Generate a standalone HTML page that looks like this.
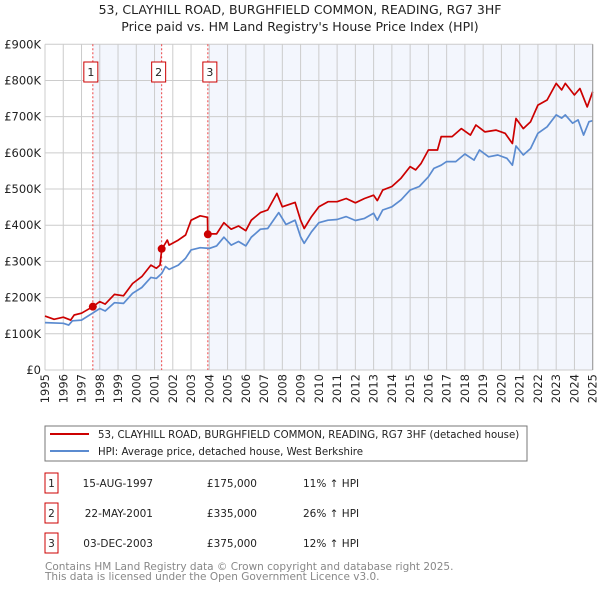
<!DOCTYPE html>
<html><head><meta charset="utf-8"><style>
body{margin:0;background:#fff;font-family:"Liberation Sans","DejaVu Sans",sans-serif;}
svg text{font-family:"DejaVu Sans","Liberation Sans",sans-serif;}
</style></head><body>
<svg id="c" width="600" height="590" xmlns="http://www.w3.org/2000/svg">
<text x="300" y="14" text-anchor="middle" font-size="12.5" fill="#222">53, CLAYHILL ROAD, BURGHFIELD COMMON, READING, RG7 3HF</text>
<text x="300" y="31" text-anchor="middle" font-size="12.5" fill="#222">Price paid vs. HM Land Registry's House Price Index (HPI)</text>
<g id="plot"></g>
<rect x="45" y="426" width="482" height="35" fill="none" stroke="#777"/>
<line x1="50" y1="434" x2="89" y2="434" stroke="#cc0000" stroke-width="2"/>
<text x="98" y="438" font-size="10.2" fill="#222">53, CLAYHILL ROAD, BURGHFIELD COMMON, READING, RG7 3HF (detached house)</text>
<line x1="50" y1="451" x2="89" y2="451" stroke="#5b8bd0" stroke-width="2"/>
<text x="98" y="455" font-size="10.2" fill="#222">HPI: Average price, detached house, West Berkshire</text>
<g id="tbl"></g>
<text x="45" y="570" font-size="10.5" fill="#888">Contains HM Land Registry data © Crown copyright and database right 2025.</text>
<text x="45" y="580" font-size="10.5" fill="#888">This data is licensed under the Open Government Licence v3.0.</text>
</svg>
<script>
const hpiYears=[1995,1996,1996.3,1996.5,1997,1997.6,1998,1998.3,1998.8,1999.3,1999.8,2000.3,2000.8,2001.1,2001.4,2001.6,2001.8,2002.3,2002.7,2003,2003.5,2004,2004.4,2004.8,2005.2,2005.6,2006,2006.3,2006.8,2007.2,2007.8,2008.2,2008.7,2009,2009.2,2009.6,2010,2010.5,2011,2011.5,2012,2012.5,2013,2013.2,2013.5,2014,2014.5,2015,2015.5,2016,2016.3,2016.7,2017,2017.5,2018,2018.5,2018.8,2019.3,2019.8,2020.3,2020.6,2020.8,2021.2,2021.6,2022,2022.5,2023,2023.3,2023.5,2023.9,2024.2,2024.5,2024.8,2025];
const hpiValues=[131,129,124,136,138,157,170,163,186,184,212,228,256,253,267,286,278,290,309,332,338,336,343,367,345,355,343,367,389,391,435,402,414,368,350,382,407,414,416,424,413,419,433,414,442,451,470,497,507,534,557,566,576,576,597,580,608,589,594,585,566,619,594,612,654,672,705,696,705,682,691,649,686,689];
const priceYears=[1995,1995.5,1996,1996.4,1996.6,1997,1997.62,1998,1998.3,1998.8,1999.3,1999.8,2000.3,2000.8,2001.1,2001.3,2001.39,2001.7,2001.8,2002.3,2002.7,2003,2003.5,2003.9,2003.92,2004.4,2004.8,2005.2,2005.6,2006,2006.3,2006.8,2007.2,2007.7,2008,2008.7,2009,2009.2,2009.6,2010,2010.5,2011,2011.5,2012,2012.5,2013,2013.2,2013.5,2014,2014.5,2015,2015.3,2015.6,2016,2016.5,2016.7,2017.3,2017.8,2018.3,2018.6,2019.1,2019.7,2020.2,2020.6,2020.8,2021.2,2021.6,2022,2022.5,2023,2023.3,2023.5,2024,2024.3,2024.7,2025];
const priceValues=[149,140,146,138,152,157,175,189,182,209,205,239,258,290,281,290,333,359,345,359,373,414,426,422,376,376,407,389,398,385,414,435,442,488,451,463,414,391,424,451,465,465,474,462,474,483,468,497,507,530,562,553,571,608,608,645,645,667,649,677,658,663,654,626,695,667,686,732,746,792,774,792,760,778,727,769];
const saleYears=[1997.62,2001.39,2003.92];
const saleValues=[175,335,375];
const saleLabels=["1","2","3"];
const saleDates=["15-AUG-1997","22-MAY-2001","03-DEC-2003"];
const salePrices=["£175,000","£335,000","£375,000"];
const saleDiffs=["11% ↑ HPI","26% ↑ HPI","12% ↑ HPI"];
const yTicks=[0,100,200,300,400,500,600,700,800,900];
const yTickLabels=["£0","£100K","£200K","£300K","£400K","£500K","£600K","£700K","£800K","£900K"];
const xTicks=[1995,1996,1997,1998,1999,2000,2001,2002,2003,2004,2005,2006,2007,2008,2009,2010,2011,2012,2013,2014,2015,2016,2017,2018,2019,2020,2021,2022,2023,2024,2025];

const NS="http://www.w3.org/2000/svg";
const X0=45,X1=592.7,Y0=370,Y1=44.3;
const xs=y=>X0+(y-1995)/30*(X1-X0);
const ys=v=>Y0-v/900*(Y0-Y1);
const g=document.getElementById('plot');
function mk(t,a,p){const e=document.createElementNS(NS,t);for(const k in a)e.setAttribute(k,a[k]);(p||g).appendChild(e);return e;}
let e;
e=mk('rect',{x:X0,y:Y1,width:X1-X0,height:Y0-Y1,fill:'#fff'});


e=mk('rect',{x:xs(saleYears[0]),y:Y1,width:xs(saleYears[1])-xs(saleYears[0]),height:Y0-Y1,fill:'#f3f6fd'});


e=mk('rect',{x:xs(saleYears[2]),y:Y1,width:X1-xs(saleYears[2]),height:Y0-Y1,fill:'#f3f6fd'});


yTicks.forEach((v,i)=>{
  e=mk('line',{x1:X0,x2:X1,y1:ys(v),y2:ys(v),stroke:'#cccccc','stroke-width':1});
  
  
  e=mk('text',{x:X0-4,y:ys(v)+4,'text-anchor':'end','font-size':11.5,fill:'#222'});
  e.textContent=yTickLabels[i];
  
  
});
xTicks.forEach(v=>{
  e=mk('line',{x1:xs(v),x2:xs(v),y1:Y1,y2:Y0,stroke:'#cccccc','stroke-width':1});
  
  
  e=mk('text',{x:0,y:0,transform:`translate(${xs(v)+4},${Y0+4}) rotate(-90)`,'text-anchor':'end','font-size':11.5,fill:'#222'});
  e.textContent=v;
  
  
});
const off=[2,3,-2];
saleYears.forEach((y,i)=>{
  e=mk('line',{x1:xs(y),x2:xs(y),y1:Y1,y2:Y0,stroke:'#ee4444','stroke-width':1,'stroke-dasharray':'2,2'});
  
  
  e=mk('rect',{x:xs(y)-7-off[i],y:62,width:14,height:20,fill:'#fff',stroke:'#cc0000'});
  
  
  e=mk('text',{x:xs(y)-off[i],y:76,'text-anchor':'middle','font-size':11,fill:'#222'});
  e.textContent=saleLabels[i];
  
  
});
const path=(xa,va)=>xa.map((x,i)=>(i?'L':'M')+xs(x).toFixed(1)+','+ys(va[i]).toFixed(1)).join('');
e=mk('path',{d:path(hpiYears,hpiValues),fill:'none',stroke:'#5b8bd0','stroke-width':1.7,'stroke-linejoin':'round'});


e=mk('path',{d:path(priceYears,priceValues),fill:'none',stroke:'#cc0000','stroke-width':1.7,'stroke-linejoin':'round'});


saleYears.forEach((y,i)=>{
  e=mk('circle',{cx:xs(y),cy:ys(saleValues[i]),r:4,fill:'#cc0000'});
  
  
});
e=mk('line',{x1:X1,x2:X1,y1:Y1,y2:Y0,stroke:'#999','stroke-width':1});


const t=document.getElementById('tbl');
const rowY=[483,513,543];
saleLabels.forEach((l,i)=>{
  const cy=rowY[i];
  e=mk('rect',{x:45,y:cy-10,width:13,height:20,fill:'#fff',stroke:'#cc0000'},t);
  
  
  e=mk('text',{x:51.5,y:cy+4,'text-anchor':'middle','font-size':10.5,fill:'#222'},t);
  e.textContent=l;
  
  
  e=mk('text',{x:153,y:cy+4,'text-anchor':'end','font-size':10.5,fill:'#222'},t);
  e.textContent=saleDates[i];
  
  
  e=mk('text',{x:257,y:cy+4,'text-anchor':'end','font-size':10.5,fill:'#222'},t);
  e.textContent=salePrices[i];
  
  
  e=mk('text',{x:303,y:cy+4,'font-size':10.5,fill:'#222'},t);
  e.textContent=saleDiffs[i];
  
  
});
</script>
</body></html>
